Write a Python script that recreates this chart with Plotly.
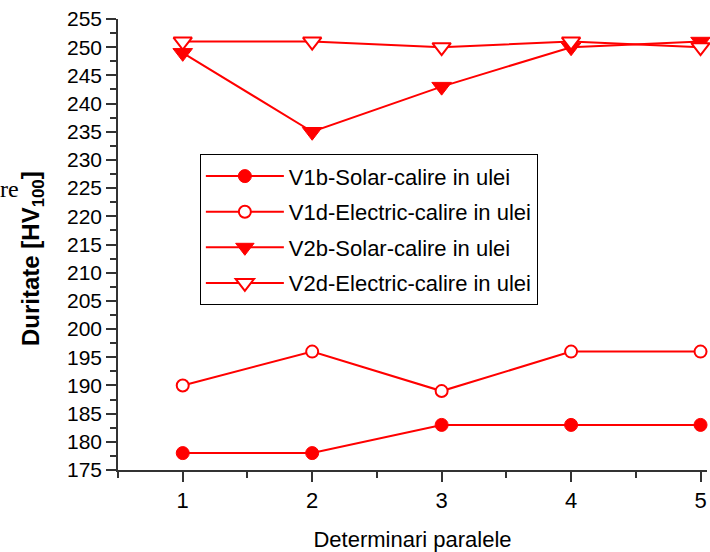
import plotly.graph_objects as go

x_vals = [1, 2, 3, 4, 5]
v1b = [178, 178, 183, 183, 183]
v1d = [190, 196, 189, 196, 196]
v2b = [249, 235, 243, 250, 251]
v2d = [251, 251, 250, 251, 250]
names = ["V1b-Solar-calire in ulei", "V1d-Electric-calire in ulei",
         "V2b-Solar-calire in ulei", "V2d-Electric-calire in ulei"]

RED = "#FF0000"
FONT = "Liberation Sans, Arial, sans-serif"
AX = "#333333"

styles = [
    dict(symbol="circle", size=13, color=RED, line=dict(color=RED, width=1)),
    dict(symbol="circle", size=12, color="white", line=dict(color=RED, width=2)),
    dict(symbol="triangle-down", size=17, color=RED, line=dict(color=RED, width=1)),
    dict(symbol="triangle-down", size=16, color="white", line=dict(color=RED, width=2)),
]

fig = go.Figure()
for i, (ys, nm) in enumerate(zip([v1b, v1d, v2b, v2d], names)):
    fig.add_trace(go.Scatter(
        x=x_vals, y=ys, name=nm, mode="lines+markers",
        line=dict(color=RED, width=2),
        marker=styles[i], cliponaxis=False,
        legendgroup=f"g{i}",
    ))

fig.update_layout(
    width=710, height=552,
    margin=dict(l=118, r=3, t=19, b=82),
    plot_bgcolor="white", paper_bgcolor="white",
    font=dict(family=FONT, size=22, color="black"),
    showlegend=True,
    legend=dict(
        x=0.139, y=0.70, xanchor="left", yanchor="top",
        bordercolor="black", borderwidth=1, bgcolor="white",
        font=dict(family=FONT, size=22, color="black"),
        tracegroupgap=4, itemwidth=78,
    ),
)

fig.update_xaxes(
    range=[0.5, 5.05], tickvals=x_vals, ticktext=[str(v) for v in x_vals],
    showgrid=False, zeroline=False, showline=True, linecolor=AX, linewidth=1.5,
    ticks="outside", ticklen=10, tickwidth=1.5, tickcolor=AX,
    ticklabelstandoff=0,
    minor=dict(ticks="outside", dtick=0.5, tick0=0.5, ticklen=6, tickcolor=AX, tickwidth=1.5),
    title=dict(text="Determinari paralele", font=dict(family=FONT, size=22), standoff=20),
    tickfont=dict(family=FONT, size=22),
)
fig.update_yaxes(
    range=[175, 255], dtick=5, tick0=175,
    showgrid=False, zeroline=False, showline=True, linecolor=AX, linewidth=1.5,
    ticks="outside", ticklen=10, tickwidth=1.5, tickcolor=AX,
    minor=dict(ticks="outside", dtick=2.5, tick0=175, ticklen=6, tickcolor=AX, tickwidth=1.5),
    tickfont=dict(family=FONT, size=21),
)

# y-axis title placed as a rotated annotation (positioned lower like the reference)
fig.add_annotation(
    text="<b>Duritate [HV<sub>100</sub>]</b>", xref="paper", yref="paper",
    x=(32 - 118) / 589, y=1 - (259 - 19) / 451, xanchor="center", yanchor="middle",
    textangle=-90, showarrow=False,
    font=dict(family=FONT, size=24, color="black"),
)

fig.add_annotation(
    text="re", xref="paper", yref="paper", x=(-2 - 118) / 589, y=1 - (189 - 19) / 451,
    xanchor="left", yanchor="middle", showarrow=False,
    font=dict(family="Liberation Serif, Times New Roman, serif", size=24, color="black"),
)

fig.write_html("out.html")
